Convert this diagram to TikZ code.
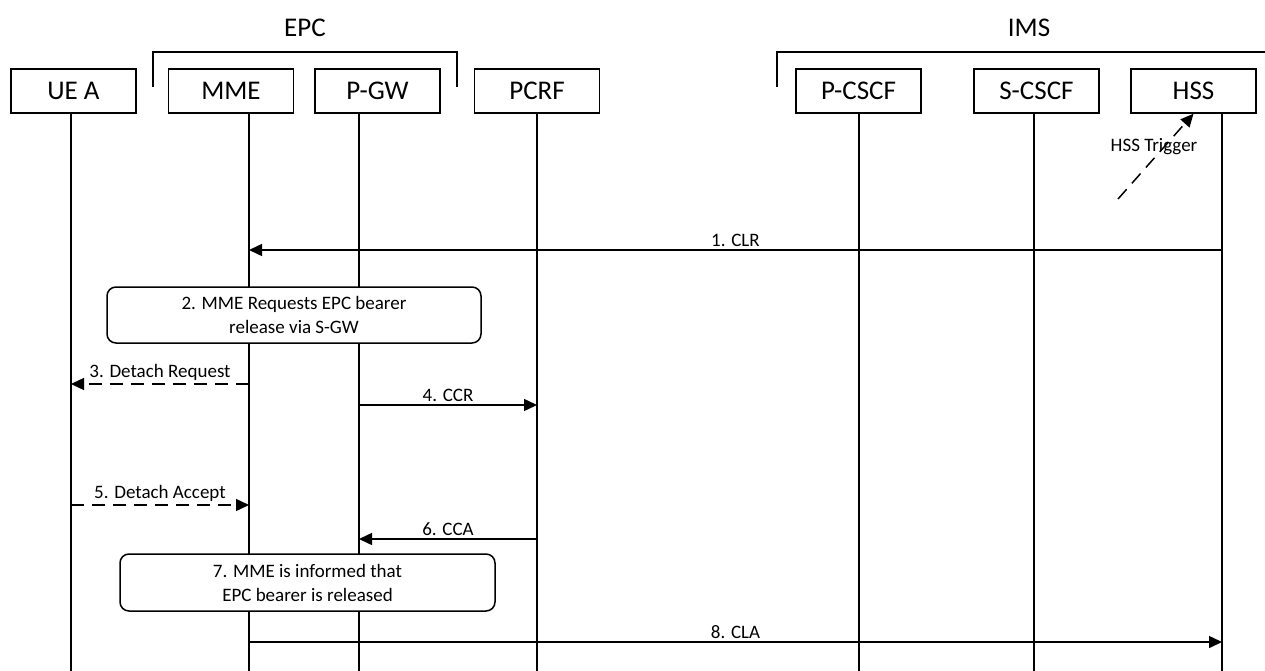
\documentclass[tikz,border=0pt]{standalone}
\usepackage{fontspec}
\setmainfont{Carlito}
\usetikzlibrary{arrows.meta}
\begin{document}
\begin{tikzpicture}[x=1pt,y=-1pt,
  entity/.style={draw,line width=1.5pt,minimum width=125pt,minimum height=44pt,inner sep=0pt,font=\fontsize{27}{30}\selectfont},
  group/.style={font=\fontsize{27}{30}\selectfont},
  life/.style={line width=1.5pt},
  msg/.style={line width=1.5pt,-{Triangle[length=13pt,width=12pt]}},
  reply/.style={msg,dash pattern=on 13pt off 8pt},
  lbl/.style={font=\fontsize{19}{22}\selectfont,above,inner sep=3pt},
  actbox/.style={draw,fill=white,rounded corners=9pt,line width=1.5pt,align=center,inner sep=0pt,font=\fontsize{19}{24}\selectfont}]
\useasboundingbox (0,0) rectangle (1265,671);
% entities
\node[entity] (ue) at (73.5,91) {UE A};
\node[entity] (mme) at (231,91) {MME};
\node[entity] (pgw) at (377.5,91) {P-GW};
\node[entity] (pcrf) at (537,91) {PCRF};
\node[entity] (pcscf) at (858.5,91) {P-CSCF};
\node[entity] (scscf) at (1036.5,91) {S-CSCF};
\node[entity] (hss) at (1193.5,91) {HSS};
% groups
\draw[life] (153,87) -- (153,52) -- (457,52) -- (457,87);
\node[group] (epc) at (305,28) {EPC};
\draw[life] (777,87) -- (777,52) -- (1265,52);
\node[group] (ims) at (1029,28) {IMS};
% lifelines
\foreach \n/\x in {ue/71,mme/249,pgw/359,pcrf/537,pcscf/859,scscf/1034,hss/1222}{
  \coordinate (L\n) at (\x,113);
  \draw[life] (L\n) -- (\x,671);
}
% trigger
\coordinate (trig) at (1118,199);
\draw[reply] (trig) -- (hss.south);
\node[font=\fontsize{19}{22}\selectfont] (trigtxt) at (1154,147) {HSS Trigger};
% messages
\draw[msg] (Lhss |- 0,250) -- node[lbl]{1. CLR} (Lmme |- 0,250);
\node[actbox,minimum width=374pt,minimum height=56pt] (req) at (294,315) {2. MME Requests EPC bearer\\release via S-GW};
\draw[reply] (Lmme |- 0,384) -- node[lbl]{3. Detach Request} (Lue |- 0,384);
\draw[msg] (Lpgw |- 0,405) -- node[lbl]{4. CCR} (Lpcrf |- 0,405);
\draw[reply] (Lue |- 0,505) -- node[lbl]{5. Detach Accept} (Lmme |- 0,505);
\draw[msg] (Lpcrf |- 0,539) -- node[lbl]{6. CCA} (Lpgw |- 0,539);
\node[actbox,minimum width=375pt,minimum height=57pt] (inf) at (307.5,582.5) {7. MME is informed that\\EPC bearer is released};
\draw[msg] (Lmme |- 0,642) -- node[lbl]{8. CLA} (Lhss |- 0,642);
\end{tikzpicture}
\end{document}
